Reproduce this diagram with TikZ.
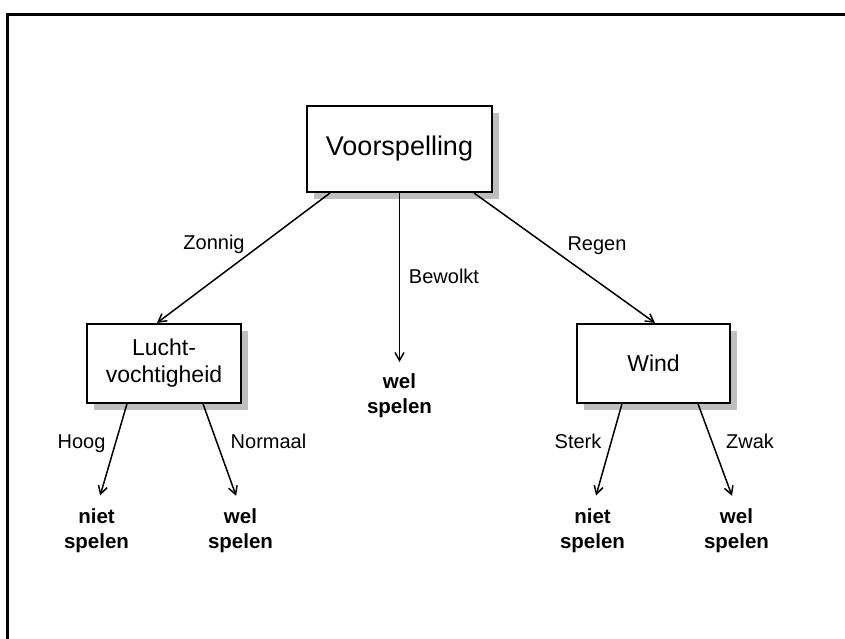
\documentclass[tikz,border=0pt]{standalone}
\usepackage{fontspec}
\setmainfont{Liberation Sans}
\usetikzlibrary{shadows,arrows.meta}

\tikzset{
  box/.style={draw, line width=2.2pt, fill=white, align=center,
    font=\fontsize{23}{27}\selectfont,
    drop shadow={shadow xshift=7pt, shadow yshift=-7pt, fill=black!25, opacity=1}},
  leaf/.style={font=\bfseries\fontsize{20.5}{24.5}\selectfont, align=center,
    inner sep=0pt, anchor=north},
  lbl/.style={font=\fontsize{20}{24}\selectfont, inner sep=0pt, anchor=base},
}

\begin{document}
\begin{tikzpicture}[x=1pt, y=-1pt, >={Straight Barb[length=8pt,width=9pt]},
                    line width=1.5pt]
    \useasboundingbox (0,0) rectangle (845,639);

    % Frame
    \draw[line width=3pt] (7,639) -- (7,14.5) -- (845,14.5);

    % Boxes
    \node[box, minimum width=185pt, minimum height=86pt,
          font=\fontsize{27}{31}\selectfont] (vs) at (399.5,149) {Voorspelling};
    \node[box, minimum width=154pt, minimum height=79pt] (lucht) at (164,363.5) {Lucht-\\vochtigheid};
    \node[box, minimum width=153pt, minimum height=79pt] (wind) at (653.5,363.5) {Wind};

    % Leaves
    \node[leaf] (vsWel) at (399.5,373) {wel\\spelen};
    \node[leaf] (luNiet) at (96.5,508) {niet\\spelen};
    \node[leaf] (luWel) at (240.5,508) {wel\\spelen};
    \node[leaf] (wiNiet) at (592.5,508) {niet\\spelen};
    \node[leaf] (wiWel) at (736.5,508) {wel\\spelen};

    % Branches
    \draw[->] ([xshift=24pt]vs.south west) -- ([xshift=-7pt]lucht.north);
    \draw[->, shorten >=11pt] (vs.south) -- (vsWel.north);
    \draw[->] ([xshift=-19pt]vs.south east) -- ([xshift=1.5pt]wind.north);
    \draw[->, shorten >=13pt] ([xshift=41pt]lucht.south west) -- (luNiet.north);
    \draw[->, shorten >=13pt] ([xshift=-39pt]lucht.south east) -- (luWel.north);
    \draw[->, shorten >=13pt] ([xshift=46pt]wind.south west) -- (wiNiet.north);
    \draw[->, shorten >=13pt] ([xshift=-33pt]wind.south east) -- (wiWel.north);

    % Branch labels
    \node[lbl] (zonnig) at (214,249) {Zonnig};
    \node[lbl] (bewolkt) at (444,283) {Bewolkt};
    \node[lbl] (regen) at (597,250) {Regen};
    \node[lbl] (hoog) at (81.5,448) {Hoog};
    \node[lbl] (normaal) at (268.5,448) {Normaal};
    \node[lbl] (sterk) at (578,448) {Sterk};
    \node[lbl] (zwak) at (750,448) {Zwak};

\end{tikzpicture}
\end{document}
